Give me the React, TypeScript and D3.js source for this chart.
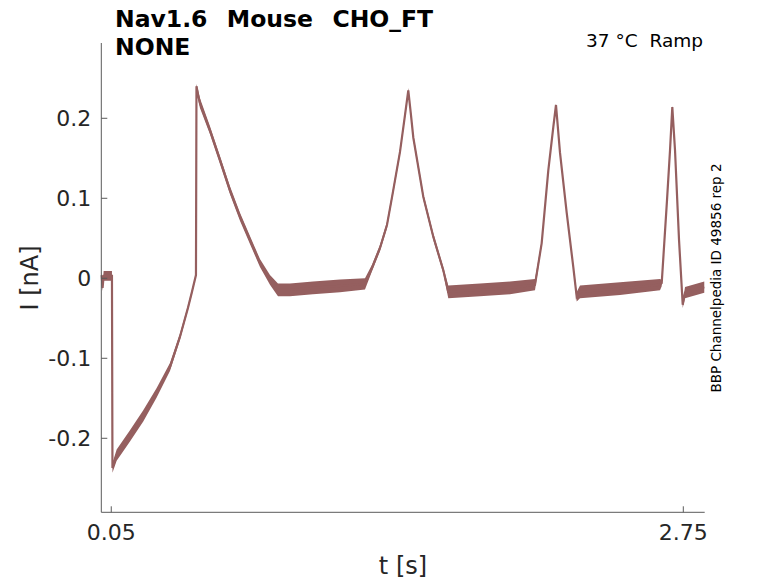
import * as d3 from "d3";

// trace (time in s, current in nA, noise half-band in nA)
const tSec = [
  0.0047, 0.009, 0.014, 0.0533, 0.0557, 0.0755, 0.1383, 0.201, 0.2643, 0.3271,
  0.3743, 0.412, 0.4309, 0.4498, 0.4522, 0.4593, 0.4687, 0.5159, 0.5631, 0.6103,
  0.6575, 0.7047, 0.7519, 0.7991, 0.8369, 0.8935, 1.0021, 1.1296, 1.2476, 1.2806,
  1.3184, 1.3514, 1.3769, 1.4128, 1.4364, 1.452, 1.4647, 1.4756, 1.5228, 1.57,
  1.6172, 1.6407, 1.7904, 1.932, 2.05, 2.0816, 2.1128, 2.1364, 2.1491, 2.168,
  2.1996, 2.2308, 2.2468, 2.2624, 2.4513, 2.6401, 2.6481, 2.6732, 2.6873, 2.6981,
  2.7109, 2.7298, 2.7473, 2.7581, 2.849,
];
const iNa = [
  0.004, -0.012, 0.003, 0.003, -0.237, -0.221, -0.197, -0.172, -0.143, -0.111,
  -0.073, -0.037, -0.017, 0.004, 0.24, 0.23, 0.219, 0.185, 0.148, 0.11,
  0.077, 0.048, 0.019, -0.002, -0.0146, -0.0146, -0.012, -0.0096, -0.0071, 0.0129,
  0.0379, 0.0666, 0.104, 0.158, 0.204, 0.235, 0.204, 0.176, 0.102, 0.052,
  0.01, -0.017, -0.0146, -0.012, -0.008, 0.044, 0.135, 0.189, 0.2166, 0.157,
  0.082, 0.014, -0.023, -0.017, -0.013, -0.008, -0.006, 0.098, 0.16, 0.214,
  0.16, 0.048, -0.033, -0.018, -0.011,
];
const noise = [
  0.006, 0.004, 0.006, 0.006, 0.006, 0.007, 0.007, 0.007, 0.006, 0.005,
  0.004, 0.003, 0.003, 0.002, 0.003, 0.006, 0.006, 0.005, 0.005, 0.005,
  0.005, 0.005, 0.005, 0.006, 0.008, 0.008, 0.008, 0.008, 0.007, 0.004,
  0.004, 0.004, 0.004, 0.004, 0.004, 0.003, 0.004, 0.004, 0.004, 0.004,
  0.004, 0.008, 0.008, 0.008, 0.007, 0.003, 0.003, 0.003, 0.002, 0.003,
  0.003, 0.003, 0.006, 0.008, 0.008, 0.007, 0.004, 0.003, 0.003, 0.002,
  0.003, 0.003, 0.004, 0.007, 0.007,
];

const xTicks = [0.05, 2.75];
const yTicks = [-0.2, -0.1, 0, 0.1, 0.2];
const titleLines = ["Nav1.6  Mouse  CHO_FT", "NONE"];
const condition = "37 °C  Ramp";
const sideNote = "BBP Channelpedia ID 49856 rep 2";

const W = 778;
const H = 583;
const traceColor = "#955f5f";
const axisColor = "#5a5a5a";
const textColor = "#262626";
const font = "DejaVu Sans, sans-serif";

export default function App() {
  const x = d3.scaleLinear().domain([0.003, 2.851]).range([101.3, 704.7]);
  const y = d3.scaleLinear().domain([-0.2925, 0.2941]).range([512.3, 43]);
  const [x0, x1] = x.range();
  const [y0, y1] = y.range();

  const pts = tSec.map((t, i) => ({ t, v: iNa[i], n: noise[i] }));
  const band = d3
    .area<any>()
    .x((d) => x(d.t))
    .y0((d) => y(d.v - d.n))
    .y1((d) => y(d.v + d.n))(pts);
  const line = d3
    .line<any>()
    .x((d) => x(d.t))
    .y((d) => y(d.v))(pts);

  return (
    <svg
      width={W}
      height={H}
      style={{ position: "absolute", left: 0, top: 0, background: "#fff" }}
      fontFamily={font}
    >
      <path d={band || ""} fill={traceColor} stroke="none" />
      <path d={line || ""} fill="none" stroke={traceColor} strokeWidth={2.2} />

      {/* axes */}
      <line x1={x0} x2={x0} y1={y1} y2={y0} stroke={axisColor} strokeWidth={1} />
      <line x1={x0} x2={x1} y1={y0} y2={y0} stroke={axisColor} strokeWidth={1} />
      {yTicks.map((v) => (
        <g key={"y" + v}>
          <line x1={x0} x2={x0 + 6} y1={y(v)} y2={y(v)} stroke={axisColor} />
          <text
            x={x0 - 10}
            y={y(v)}
            dy="0.36em"
            textAnchor="end"
            fontSize={22}
            fill={textColor}
          >
            {v === 0 ? "0" : d3.format(".1f")(v).replace("−", "-")}
          </text>
        </g>
      ))}
      {xTicks.map((v) => (
        <g key={"x" + v}>
          <line x1={x(v)} x2={x(v)} y1={y0} y2={y0 - 6} stroke={axisColor} />
          <text x={x(v)} y={540} textAnchor="middle" fontSize={22} fill={textColor}>
            {v.toFixed(2)}
          </text>
        </g>
      ))}

      <text x={403} y={574} textAnchor="middle" fontSize={24} fill={textColor}>
        t [s]
      </text>
      <text
        transform={`translate(38,278) rotate(-90)`}
        textAnchor="middle"
        fontSize={24}
        fill={textColor}
      >
        I [nA]
      </text>

      {titleLines.map((s, i) => (
        <text
          key={s}
          x={115}
          y={27 + i * 28}
          fontSize={23.5}
          fontWeight="bold"
          fill="#000"
          wordSpacing={1.5}
          style={{ whiteSpace: "pre" }}
        >
          {s}
        </text>
      ))}
      <text
        x={703}
        y={47}
        textAnchor="end"
        fontSize={18.5}
        fill="#000"
        style={{ whiteSpace: "pre" }}
      >
        {condition}
      </text>
      <text
        transform={`translate(721,278) rotate(-90)`}
        textAnchor="middle"
        fontSize={13.5}
        fill="#000"
      >
        {sideNote}
      </text>
    </svg>
  );
}
